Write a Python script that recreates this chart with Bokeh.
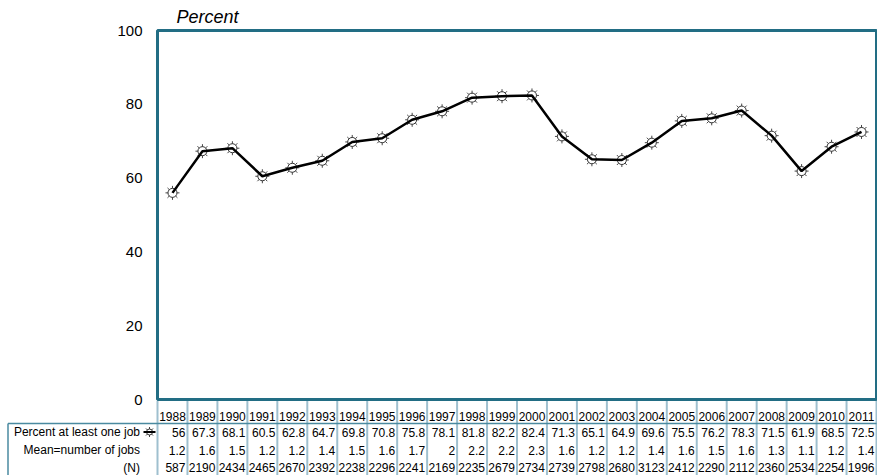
from bokeh.plotting import figure
from bokeh.models import Range1d, FixedTicker, ColumnDataSource
from bokeh.core.properties import value
from bokeh.embed import file_html
from bokeh.resources import INLINE

years = [1988, 1989, 1990, 1991, 1992, 1993, 1994, 1995, 1996, 1997, 1998, 1999,
         2000, 2001, 2002, 2003, 2004, 2005, 2006, 2007, 2008, 2009, 2010, 2011]
pct_one_job = [56, 67.3, 68.1, 60.5, 62.8, 64.7, 69.8, 70.8, 75.8, 78.1, 81.8, 82.2,
               82.4, 71.3, 65.1, 64.9, 69.6, 75.5, 76.2, 78.3, 71.5, 61.9, 68.5, 72.5]
mean_jobs = [1.2, 1.6, 1.5, 1.2, 1.2, 1.4, 1.5, 1.6, 1.7, 2, 2.2, 2.2,
             2.3, 1.6, 1.2, 1.2, 1.4, 1.6, 1.5, 1.6, 1.3, 1.1, 1.2, 1.4]
n_obs = [587, 2190, 2434, 2465, 2670, 2392, 2238, 2296, 2241, 2169, 2235, 2679,
         2734, 2739, 2798, 2680, 3123, 2412, 2290, 2112, 2360, 2534, 2254, 1996]
row_labels = ["Percent at least one job", "Mean=number of jobs", "(N)"]
y_ticks = [0, 20, 40, 60, 80, 100]
y_label = "Percent"

FONT = "Liberation Sans"
TEAL = "#226d84"
GRID = "#9fc0cf"
BOX = "#4a8aa0"

# ---- layout (pixels) ----
W, H = 877, 475
PLOT_L, PLOT_R = 157, 876      # chart box, px
PLOT_T, PLOT_B = 30, 399
x0, x1 = years[0] - 0.5, years[-1] + 0.5
ppx = (PLOT_R - PLOT_L) / (x1 - x0)          # px per year
ppy = (PLOT_B - PLOT_T) / 100.0              # px per percent
xr = Range1d(x0 - PLOT_L / ppx, x1 + (W - PLOT_R) / ppx)
yr = Range1d(-(H - PLOT_B) / ppy, 100 + PLOT_T / ppy)

p = figure(width=W, height=H, output_backend="svg", toolbar_location=None,
           x_range=xr, y_range=yr,
           min_border_left=0, min_border_right=0, min_border_top=0, min_border_bottom=0)
# page-pixel vertical range for the title and the table rows
p.extra_y_ranges = {"page": Range1d(H, 0)}
p.xaxis.visible = False
p.grid.visible = False
p.outline_line_color = None
p.background_fill_color = "white"
p.border_fill_color = "white"

ya = p.yaxis[0]
ya.fixed_location = x0
ya.bounds = (0, 100)
ya.ticker = FixedTicker(ticks=y_ticks)
ya.axis_line_color = None
ya.major_tick_line_color = None
ya.minor_tick_line_color = None
ya.major_tick_out = 0
ya.major_tick_in = 0
ya.major_label_standoff = 15
ya.major_label_text_font = FONT
ya.major_label_text_font_size = "15px"
ya.major_label_text_color = "black"

# chart box
p.quad(left=[x0], right=[x1], bottom=[0], top=[100], fill_color=None,
       line_color=TEAL, line_width=3)

# "Percent" label
p.text(x=[x0], y=[16.5], y_range_name="page", text=[y_label], x_offset=19,
       text_align="left", text_baseline="middle", text_font=value(FONT),
       text_font_style="italic", text_font_size="18px", text_color="black")

src = ColumnDataSource(dict(x=years, y=pct_one_job))
p.scatter("x", "y", source=src, marker="asterisk", size=14, line_color="#444444", line_width=1)
p.scatter("x", "y", source=src, marker="circle", size=9, fill_color="white", line_color="#333333", line_width=1)
p.line("x", "y", source=src, line_color="black", line_width=2.5)

# ---------------- table ----------------
row_y = [416, 431.5, 449.5, 467]
hline_y = 423
tx0 = xr.start

bounds = [y - 0.5 for y in years] + [years[-1] + 0.5]
p.segment(x0=bounds, x1=bounds, y0=[PLOT_B + 1.5] * len(bounds), y1=[H] * len(bounds),
          y_range_name="page", line_color=GRID, line_width=2)
p.segment(x0=[tx0 + 7.5 / ppx], x1=[x1], y0=[hline_y], y1=[hline_y], y_range_name="page",
          line_color=BOX, line_width=1.5)
p.segment(x0=[tx0 + 7.5 / ppx], x1=[tx0 + 7.5 / ppx], y0=[hline_y], y1=[H], y_range_name="page",
          line_color=BOX, line_width=1.5)

p.text(x=years, y=[row_y[0]] * len(years), y_range_name="page", text=[str(v) for v in years],
       text_align="center", text_baseline="middle", text_font=value(FONT),
       text_font_size="12px", text_color="black")
for vals, ry in zip([pct_one_job, mean_jobs, n_obs], row_y[1:]):
    p.text(x=[y + 0.5 for y in years], y=[ry] * len(years), y_range_name="page",
           text=["{:g}".format(v) for v in vals],
           x_offset=-2, text_align="right", text_baseline="middle", text_font=value(FONT),
           text_font_size="12px", text_color="black")
p.text(x=[x0] * 3, y=row_y[1:], y_range_name="page", text=row_labels, x_offset=-17.5,
       text_align="right", text_baseline="middle", text_font=value(FONT),
       text_font_size="12px", text_color="black")

# legend symbol for the line
sym_x = x0 - 8 / ppx
p.scatter(x=[sym_x], y=[row_y[1]], y_range_name="page", marker="asterisk", size=10,
          line_color="#444444", line_width=1)
p.scatter(x=[sym_x], y=[row_y[1]], y_range_name="page", marker="circle", size=6,
          fill_color="white", line_color="#333333", line_width=1)
p.segment(x0=[x0 - 14 / ppx], x1=[x0 - 2 / ppx], y0=[row_y[1]], y1=[row_y[1]], y_range_name="page",
          line_color="black", line_width=2)

open("out.html", "w").write(file_html(p, INLINE))
